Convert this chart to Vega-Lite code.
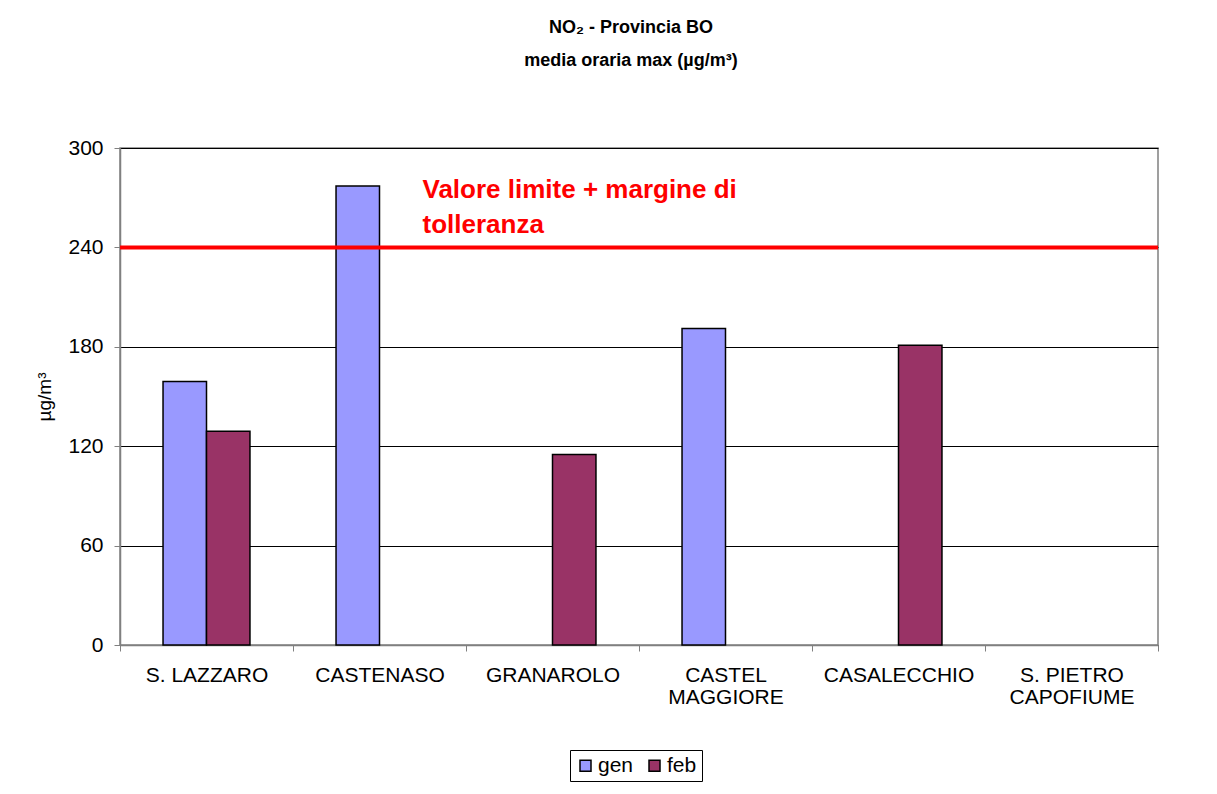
{
  "$schema": "https://vega.github.io/schema/vega-lite/v6.json",
  "width": 1038,
  "height": 497,
  "autosize": {"type": "none"},
  "padding": {"left": 120, "top": 148, "right": 59, "bottom": 149},
  "background": "white",
  "config": {
    "font": "Liberation Sans",
    "view": {"stroke": "#808080", "strokeWidth": 1.5}
  },
  "title": {
    "text": ["NO₂ - Provincia BO", "media oraria max (µg/m³)"],
    "font": "Liberation Sans",
    "fontSize": 18,
    "fontWeight": "bold",
    "lineHeight": 33,
    "color": "black",
    "anchor": "middle",
    "dx": -8,
    "offset": 67
  },
  "datasets": {
    "bars": [
      {"stazione": "S. LAZZARO", "mese": "gen", "valore": 159},
      {"stazione": "S. LAZZARO", "mese": "feb", "valore": 129},
      {"stazione": "CASTENASO", "mese": "gen", "valore": 277},
      {"stazione": "GRANAROLO", "mese": "feb", "valore": 115},
      {"stazione": "CASTEL MAGGIORE", "mese": "gen", "valore": 191},
      {"stazione": "CASALECCHIO", "mese": "feb", "valore": 181}
    ],
    "limite": [
      {"stazione": "CASTENASO", "valore": 240, "testo": ["Valore limite + margine di", "tolleranza"], "testo_y": 270}
    ]
  },
  "layer": [
    {
      "data": {"name": "bars"},
      "mark": {"type": "bar", "stroke": "black", "strokeWidth": 1.5},
      "encoding": {
        "x": {
          "field": "stazione",
          "type": "nominal",
          "scale": {
            "domain": ["S. LAZZARO", "CASTENASO", "GRANAROLO", "CASTEL MAGGIORE", "CASALECCHIO", "S. PIETRO CAPOFIUME"],
            "paddingInner": 0,
            "paddingOuter": 0
          },
          "axis": {
            "title": null,
            "labelAngle": 0,
            "labelFontSize": 21,
            "labelColor": "black",
            "labelPadding": 13,
            "labelLineHeight": 22,
            "labelBaseline": "top",
            "tickBand": "extent",
            "tickSize": 6,
            "tickColor": "#808080",
            "domainColor": "#808080",
            "domainWidth": 1.5,
            "grid": false,
            "labelExpr": "datum.value == 'CASTEL MAGGIORE' ? ['CASTEL', 'MAGGIORE'] : datum.value == 'S. PIETRO CAPOFIUME' ? ['S. PIETRO', 'CAPOFIUME'] : datum.value"
          }
        },
        "xOffset": {
          "field": "mese",
          "type": "nominal",
          "scale": {"domain": ["gen", "feb"], "paddingInner": 0, "paddingOuter": 0.99}
        },
        "y": {
          "field": "valore",
          "type": "quantitative",
          "scale": {"domain": [0, 300], "nice": false},
          "axis": {
            "title": "µg/m³",
            "titleFontSize": 19,
            "titleFontWeight": "normal",
            "titleColor": "black",
            "titlePadding": 13,
            "values": [0, 60, 120, 180, 240, 300],
            "labelFontSize": 21,
            "labelColor": "black",
            "labelPadding": 11,
            "tickSize": 6,
            "tickColor": "#808080",
            "domainColor": "#808080",
            "domainWidth": 1.5,
            "gridColor": "black",
            "gridWidth": 1,
            "gridOpacity": 1
          }
        },
        "color": {
          "field": "mese",
          "type": "nominal",
          "scale": {"domain": ["gen", "feb"], "range": ["#9999FF", "#993366"]},
          "legend": {
            "title": null,
            "orient": "none",
            "direction": "horizontal",
            "legendX": 450,
            "legendY": 602,
            "symbolType": "square",
            "symbolSize": 121,
            "symbolStrokeColor": "black",
            "symbolStrokeWidth": 1.5,
            "symbolOpacity": 1,
            "labelFontSize": 21,
            "labelColor": "black",
            "labelOffset": 2,
            "columnPadding": 10,
            "strokeColor": "black",
            "padding": 5,
            "fillColor": "white"
          }
        }
      }
    },
    {
      "data": {"name": "limite"},
      "mark": {"type": "rule", "color": "#FF0000", "strokeWidth": 4},
      "encoding": {"y": {"field": "valore", "type": "quantitative"}}
    },
    {
      "data": {"name": "limite"},
      "mark": {
        "type": "text",
        "color": "#FF0000",
        "fontSize": 26,
        "fontWeight": "bold",
        "align": "left",
        "baseline": "alphabetic",
        "lineHeight": 35,
        "dx": 43
      },
      "encoding": {
        "x": {"field": "stazione", "type": "nominal"},
        "y": {"field": "testo_y", "type": "quantitative"},
        "text": {"field": "testo"}
      }
    }
  ]
}
